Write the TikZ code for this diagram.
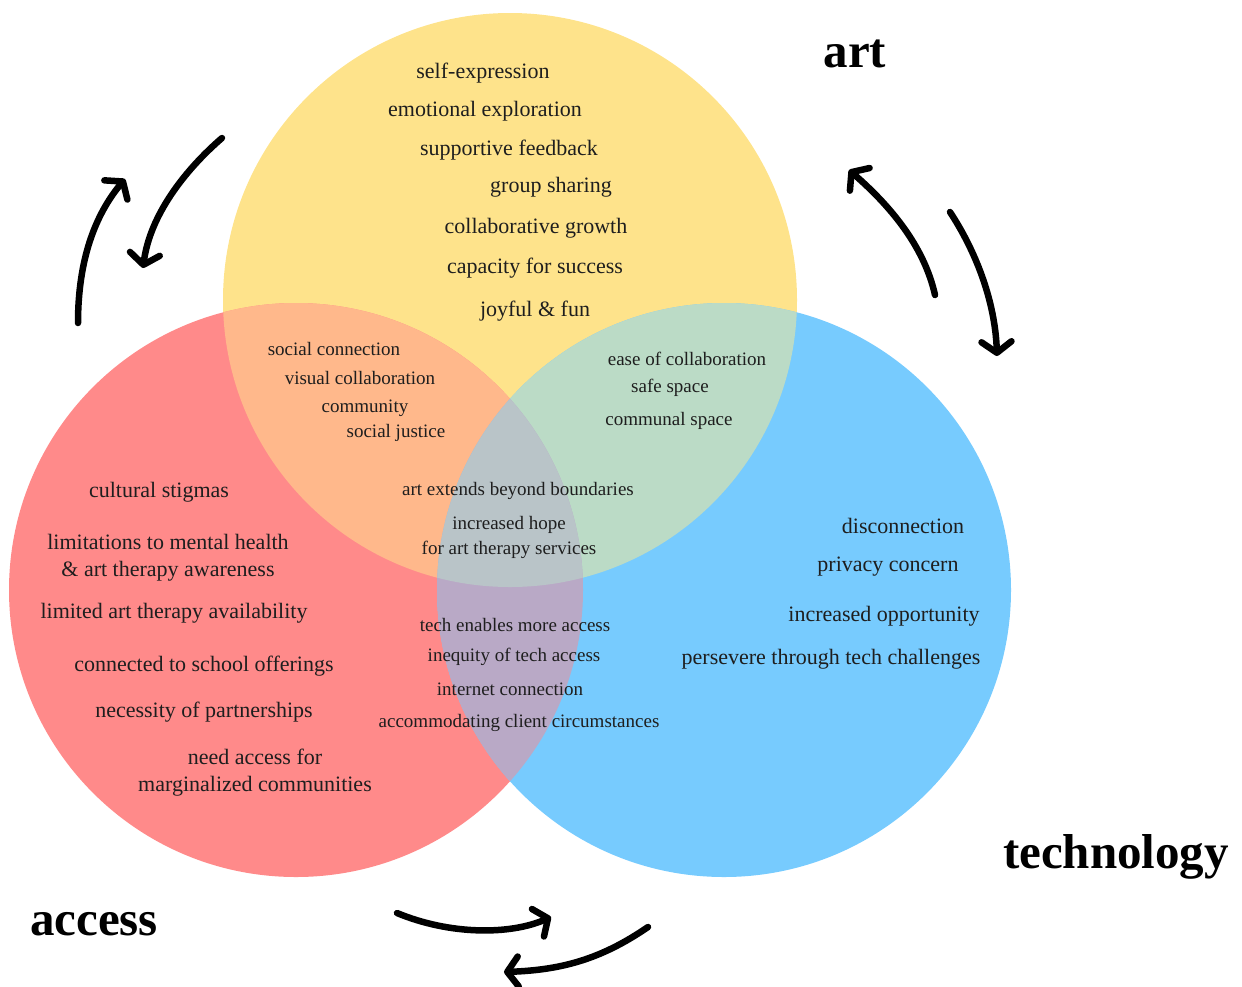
\documentclass[tikz,border=0pt]{standalone}
\usepackage{fontspec}
\setmainfont{Liberation Serif}
\usetikzlibrary{arrows.meta}
\definecolor{cyel}{HTML}{FEE38B}
\definecolor{cred}{HTML}{FF8A8A}
\definecolor{cblu}{HTML}{77CBFE}
\definecolor{cory}{HTML}{FFB88B}
\definecolor{cgrn}{HTML}{BBDBC6}
\definecolor{cpur}{HTML}{B9A9C6}
\definecolor{cgry}{HTML}{B9C4C8}
\definecolor{ctxt}{HTML}{1E1E1E}
\tikzset{
  big/.style={font=\fontsize{22}{24}\selectfont, text=ctxt, inner sep=0pt, yshift=-2pt},
  small/.style={font=\fontsize{19}{21}\selectfont, text=ctxt, inner sep=0pt, yshift=-2pt},
  title/.style={font=\fontsize{49}{52}\selectfont\bfseries, text=black, inner sep=0pt, yshift=-2pt},
  sketch/.style={line width=6.5pt, line cap=round, line join=round,
    -{Straight Barb[length=11pt,width=30pt,line cap=round,line join=round]}},
}
\begin{document}
\begin{tikzpicture}[x=1pt,y=-1pt]
\useasboundingbox (0,0) rectangle (1242,986);
\coordinate (Y) at (510,300);
\coordinate (R) at (296,590);
\coordinate (B) at (724,590);
\def\rr{287pt}
% circles
\fill[cyel] (Y) circle[radius=\rr];
\fill[cred] (R) circle[radius=\rr];
\fill[cblu] (B) circle[radius=\rr];
\begin{scope}\clip (R) circle[radius=\rr]; \fill[cory] (Y) circle[radius=\rr];\end{scope}
\begin{scope}\clip (Y) circle[radius=\rr]; \fill[cgrn] (B) circle[radius=\rr];\end{scope}
\begin{scope}\clip (R) circle[radius=\rr]; \fill[cpur] (B) circle[radius=\rr];\end{scope}
\begin{scope}\clip (R) circle[radius=\rr]; \clip (Y) circle[radius=\rr]; \fill[cgry] (B) circle[radius=\rr];\end{scope}

% art region
\node[big] (a1) at (483,71) {self-expression};
\node[big] (a2) at (485,109) {emotional exploration};
\node[big] (a3) at (509,148) {supportive feedback};
\node[big] (a4) at (551,185) {group sharing};
\node[big] (a5) at (536,226) {collaborative growth};
\node[big] (a6) at (535,266) {capacity for success};
\node[big] (a7) at (535,309) {joyful \& fun};

% art & access
\node[small] (ra1) at (334,347) {social connection};
\node[small] (ra2) at (360,376) {visual collaboration};
\node[small] (ra3) at (365,406) {community};
\node[small] (ra4) at (396,431) {social justice};

% art & technology
\node[small] (ab1) at (687,357) {ease of collaboration};
\node[small] (ab2) at (670,386) {safe space};
\node[small] (ab3) at (669,419) {communal space};

% all three
\node[small] (c1) at (518,489) {art extends beyond boundaries};
\node[small] (c2) at (509,523) {increased hope};
\node[small] (c3) at (509,548) {for art therapy services};

% access region
\node[big] (r1) at (159,490) {cultural stigmas};
\node[big] (r2) at (168,540) {limitations to mental health};
\node[big] (r3) at (168,569) {\& art therapy awareness};
\node[big] (r4) at (174,611) {limited art therapy availability};
\node[big] (r5) at (204,664) {connected to school offerings};
\node[big] (r6) at (204,710) {necessity of partnerships};
\node[big] (r7) at (255,755) {need access for};
\node[big] (r8) at (255,784) {marginalized communities};

% access & technology
\node[small] (rb1) at (515,623) {tech enables more access};
\node[small] (rb2) at (514,655) {inequity of tech access};
\node[small] (rb3) at (510,687) {internet connection};
\node[small] (rb4) at (519,721) {accommodating client circumstances};

% technology region
\node[big] (b1) at (903,524) {disconnection};
\node[big] (b2) at (888,565) {privacy concern};
\node[big] (b3) at (884,614) {increased opportunity};
\node[big] (b4) at (831,657) {persevere through tech challenges};

% titles
\node[title] (tart) at (855,52) {art};
\node[title] (ttech) at (1116,855) {technology};
\node[title] (tacc) at (94,922) {access};

% arrows
\coordinate (p1s) at (78,323);  \coordinate (p1e) at (125,179);
\coordinate (p2s) at (222,138); \coordinate (p2e) at (143,268);
\coordinate (p3s) at (935,295); \coordinate (p3e) at (849,170);
\coordinate (p4s) at (950,212); \coordinate (p4e) at (997,356);
\coordinate (p5s) at (397,913); \coordinate (p5e) at (551,917);
\coordinate (p6s) at (648,927); \coordinate (p6e) at (504,972);
\draw[sketch] (p1s) .. controls (78,260) and (95,215) .. (p1e);
\draw[sketch] (p2s) .. controls (185,170) and (150,215) .. (p2e);
\draw[sketch] (p3s) .. controls (925,250) and (895,210) .. (p3e);
\draw[sketch] (p4s) .. controls (975,250) and (995,300) .. (p4e);
\draw[sketch] (p5s) .. controls (450,935) and (510,935) .. (p5e);
\draw[sketch] (p6s) .. controls (600,960) and (560,970) .. (p6e);
\end{tikzpicture}
\end{document}
